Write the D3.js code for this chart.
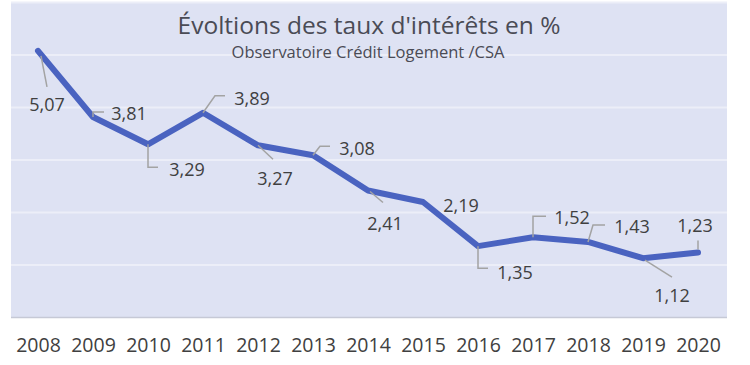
<!DOCTYPE html>
<html>
<head>
<meta charset="utf-8">
<script src="https://cdn.jsdelivr.net/npm/d3@7"></script>
<style>
  body { margin: 0; background: #fff; }
  svg { display: block; font-family: 'Open Sans', sans-serif; }
  .grid line { stroke: #eceef8; stroke-width: 2; }
  .grid .base line { stroke: #c6c9d6; stroke-width: 1.5; }
  .x.axis text { fill: #404040; font-size: 19.5px; }
  .leader { fill: none; stroke: #a3a3a3; stroke-width: 1.5; }
  .lbl { fill: #404040; font-size: 18px; }
</style>
</head>
<body>
<svg></svg>
<script>
'use strict';

var years = ['2008', '2009', '2010', '2011', '2012', '2013', '2014',
  '2015', '2016', '2017', '2018', '2019', '2020'];
var rates = [5.07, 3.81, 3.29, 3.89, 3.27, 3.08, 2.41, 2.19, 1.35, 1.52, 1.43, 1.12, 1.23];
var gridValues = [0, 1, 2, 3, 4, 5, 6];
var title = "Évoltions des taux d'intérêts en %";
var subtitle = 'Observatoire Crédit Logement /CSA';

// label placement, relative to each point: text centre + leader path
var labelOffsets = [
  { dx: 9, dy: 54, leader: [[3, 5], [9, 36]] },
  { dx: 36, dy: -3, leader: [[0, 0], [0, -5], [11, -5]] },
  { dx: 39, dy: 25, leader: [[0, 0], [0, 23], [10, 23]] },
  { dx: 49, dy: -14, leader: [[0, 0], [12, -17], [22, -17]] },
  { dx: 17, dy: 33, leader: [[0, 0], [15, 14]] },
  { dx: 44, dy: -7, leader: [[0, 0], [7, -9], [17, -9]] },
  { dx: 17, dy: 33, leader: [[2, 1], [15, 12]] },
  { dx: 38, dy: 3, leader: null },
  { dx: 37, dy: 26, leader: [[0, 0], [0, 22], [10, 22]] },
  { dx: 39, dy: -20, leader: [[0, 0], [0, -21], [13, -21]] },
  { dx: 44, dy: -15, leader: [[0, 0], [5, -17], [17, -17]] },
  { dx: 29, dy: 37, leader: [[2, 2], [29, 19]] },
  { dx: -3, dy: -27, leader: [[0, -3], [0, -12]] }
];

var WIDTH = 750,
  HEIGHT = 365,
  PLOT = { left: 11, right: 727, top: 2, bottom: 317 };

var svg = d3.select('svg')
  .attr('width', WIDTH)
  .attr('height', HEIGHT);

var xScale = d3.scalePoint()
  .domain(years)
  .range([38, 698]);

var yScale = d3.scaleLinear()
  .domain([0, 6])
  .range([PLOT.bottom, PLOT.top]);

// plot background
svg.append('rect')
  .attr('x', PLOT.left)
  .attr('y', PLOT.top)
  .attr('width', PLOT.right - PLOT.left)
  .attr('height', PLOT.bottom - PLOT.top)
  .attr('fill', '#dee2f3');

// gridlines
var yAxis = d3.axisLeft(yScale)
  .tickValues(gridValues)
  .tickSize(-(PLOT.right - PLOT.left))
  .tickFormat('');

svg.append('g')
  .attr('class', 'grid')
  .attr('transform', 'translate(' + PLOT.left + ',0)')
  .call(yAxis)
  .call(function(g) { g.select('.domain').remove(); })
  .selectAll('.tick')
  .classed('base', function(d) { return d === 0; });

// x axis
var xAxis = d3.axisBottom(xScale)
  .tickSize(0)
  .tickPadding(21);

svg.append('g')
  .attr('class', 'x axis')
  .attr('transform', 'translate(0,' + PLOT.bottom + ')')
  .call(xAxis)
  .call(function(g) { g.select('.domain').remove(); })
  .selectAll('text')
  .style('font-family', "'Open Sans', sans-serif");

// titles
svg.append('text')
  .attr('x', 369)
  .attr('y', 34)
  .attr('text-anchor', 'middle')
  .attr('fill', '#4a4b55')
  .style('font-size', '24.5px')
  .text(title);

svg.append('text')
  .attr('x', 368)
  .attr('y', 58)
  .attr('text-anchor', 'middle')
  .attr('fill', '#4a4b55')
  .style('font-size', '16.5px')
  .text(subtitle);

// line
var line = d3.line()
  .x(function(d, i) { return xScale(years[i]); })
  .y(function(d) { return yScale(d); });

svg.append('path')
  .datum(rates)
  .attr('d', line)
  .attr('fill', 'none')
  .attr('stroke', '#4a63c0')
  .attr('stroke-width', 6)
  .attr('stroke-linejoin', 'round')
  .attr('stroke-linecap', 'round');

// leaders + labels
var labels = svg.append('g');

rates.forEach(function(v, i) {
  var px = xScale(years[i]),
    py = yScale(v),
    o = labelOffsets[i];

  if (o.leader) {
    labels.append('path')
      .attr('class', 'leader')
      .attr('d', d3.line()(o.leader.map(function(p) { return [px + p[0], py + p[1]]; })));
  }

  labels.append('text')
    .attr('class', 'lbl')
    .attr('x', px + o.dx)
    .attr('y', py + o.dy)
    .attr('dy', '0.36em')
    .attr('text-anchor', 'middle')
    .text(d3.format('.2f')(v).replace('.', ','));
});
</script>
</body>
</html>
